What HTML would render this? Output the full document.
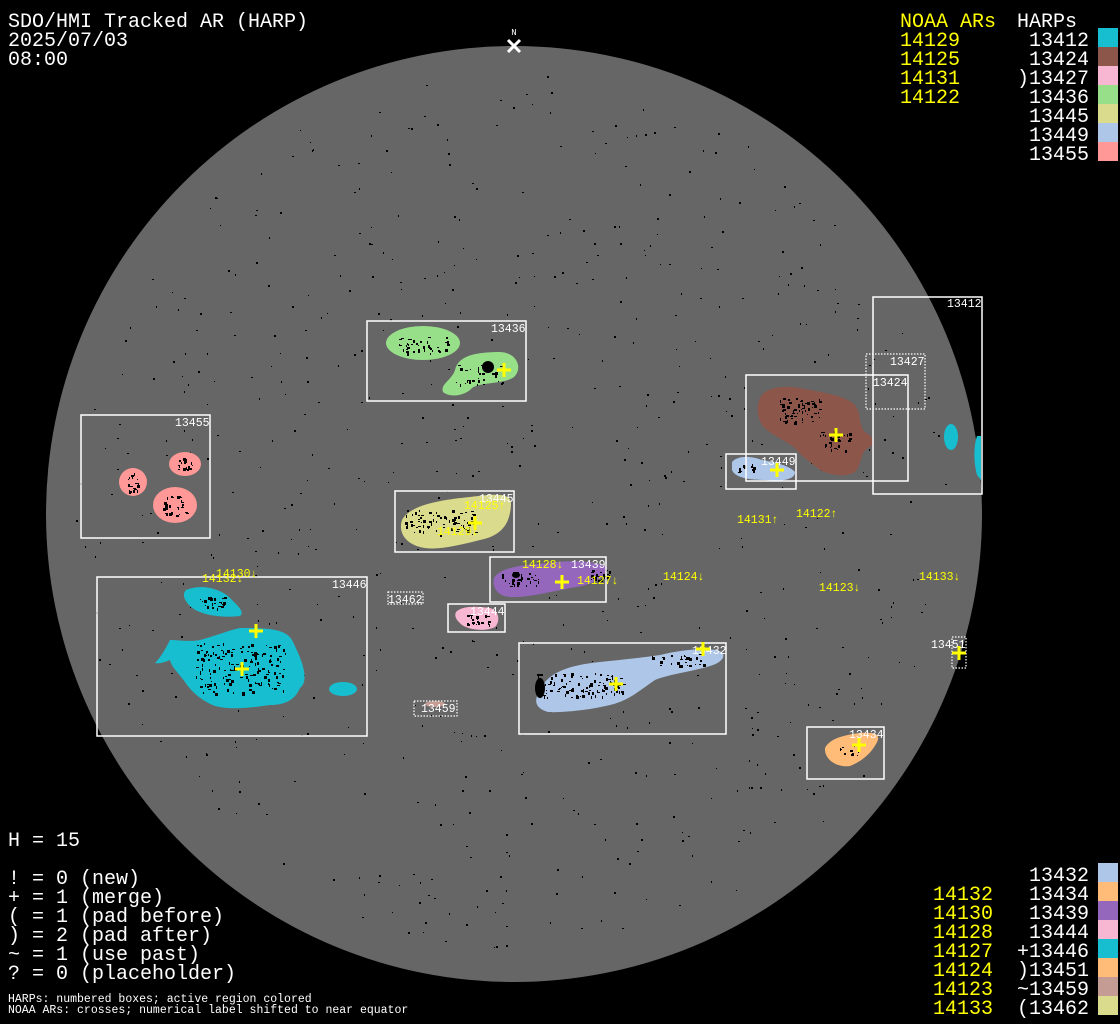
<!DOCTYPE html>
<html><head><meta charset="utf-8"><style>
html,body{margin:0;padding:0;background:#000;width:1120px;height:1024px;overflow:hidden}
svg{display:block}
.t{font-family:"Liberation Mono",monospace;font-size:20px;fill:#fff}
.y{fill:#ffff00}
.s{font-family:"Liberation Mono",monospace;font-size:11.5px;fill:#fff}
.sy{font-family:"Liberation Mono",monospace;font-size:11.5px;fill:#ffff00}
.b{fill:none;stroke:#fff;stroke-width:1.5}
.d{fill:none;stroke:#fff;stroke-width:1.2;stroke-dasharray:1.5 1.5}
.x{stroke:#ffff00;stroke-width:3;fill:none}
</style></head><body>
<svg width="1120" height="1024" viewBox="0 0 1120 1024" xmlns="http://www.w3.org/2000/svg">
<circle cx="514" cy="514" r="468" fill="#666666"/>
<g id="dots"></g>
<!-- regions -->
<ellipse cx="423" cy="343" rx="37" ry="17" fill="#98df8a"/>
<path d="M455,370 C458,356 475,352 500,352 C518,353 522,368 515,376 C508,384 480,382 472,388 C465,396 450,398 443,392 C440,384 452,380 455,370Z" fill="#98df8a"/>
<circle cx="488" cy="367" r="6" fill="#000"/>
<ellipse cx="133" cy="482" rx="14" ry="14" fill="#ff9896"/>
<ellipse cx="185" cy="464" rx="16" ry="12" fill="#ff9896"/>
<ellipse cx="175" cy="505" rx="22" ry="18" fill="#ff9896"/>
<path d="M186,590 C200,584 220,588 230,598 C238,606 245,612 240,616 C225,618 200,616 190,606 C184,600 182,594 186,590Z" fill="#17becf"/>
<path d="M170,660 C165,662 160,664 155,663 C160,658 165,650 170,640 C178,640 190,642 200,640 C215,636 230,630 240,628 C265,628 285,628 292,640 C302,660 310,680 300,688 C295,700 285,705 270,705 C250,708 230,710 215,706 C200,700 190,690 185,682 C178,672 172,668 170,660Z" fill="#17becf"/>
<ellipse cx="343" cy="689" rx="14" ry="7" fill="#17becf"/>
<ellipse cx="951" cy="437" rx="7" ry="13" fill="#17becf"/>
<path d="M977,436 L981,436 L981,480 L977,475 C973,460 974,445 977,436Z" fill="#17becf"/>
<path d="M402,520 C410,505 440,500 470,497 C495,494 512,492 511,505 C510,520 505,535 480,540 C460,545 440,550 425,548 C405,545 398,532 402,520Z" fill="#dbdb8d"/>
<path d="M494,578 C500,568 520,565 540,564 C565,560 590,560 605,566 C610,575 595,585 570,588 C550,592 525,598 510,597 C498,596 492,588 494,578Z" fill="#9467bd"/>
<path d="M456,612 C462,606 475,606 490,608 C500,611 500,622 495,627 C485,632 470,630 462,625 C456,620 454,616 456,612Z" fill="#f7b6d2"/>
<ellipse cx="435" cy="704" rx="10" ry="3" fill="#c49c94"/>
<path d="M540,690 C548,672 570,665 600,662 C620,660 640,658 660,655 C680,650 700,648 716,650 C728,652 725,662 710,666 C690,672 670,674 655,680 C640,690 630,700 610,705 C590,710 560,713 548,712 C534,708 534,700 540,690Z" fill="#aec7e8"/>
<path d="M825,748 C830,738 845,735 860,733 C875,732 882,734 876,744 C870,755 860,762 850,766 C838,768 824,760 825,748Z" fill="#ffbb78"/>
<path d="M760,398 C765,388 780,385 800,388 C820,392 845,395 855,405 C862,415 858,425 865,432 C875,438 876,444 868,448 C860,452 862,465 855,472 C845,478 830,475 820,470 C810,462 800,455 795,448 C785,440 770,435 762,425 C756,415 757,405 760,398Z" fill="#8c564b"/>
<path d="M732,462 C738,455 752,456 762,460 C775,462 790,466 795,472 C795,480 780,482 765,480 C750,480 735,478 732,470Z" fill="#aec7e8"/>
<g id="spots"></g>
<!-- boxes -->
<rect class="b" x="367" y="321" width="159" height="80"/>
<rect class="b" x="81" y="415" width="129" height="123"/>
<rect class="b" x="97" y="577" width="270" height="159"/>
<rect class="b" x="395" y="491" width="119" height="61"/>
<rect class="b" x="490" y="557" width="116" height="45"/>
<rect class="b" x="448" y="604" width="57" height="28"/>
<rect class="d" x="388" y="592" width="35" height="12"/>
<rect class="d" x="414" y="701" width="43" height="15"/>
<rect class="b" x="519" y="643" width="207" height="91"/>
<rect class="b" x="807" y="727" width="77" height="52"/>
<rect class="b" x="746" y="375" width="162" height="106"/>
<rect class="d" x="866" y="354" width="59" height="55"/>
<rect class="b" x="873" y="297" width="109" height="197"/>
<rect class="b" x="726" y="454" width="70" height="35"/>
<rect class="d" x="952" y="637" width="14" height="31"/>
<!-- box labels -->
<text class="s" x="491" y="332">13436</text>
<text class="s" x="175" y="426">13455</text>
<text class="s" x="332" y="588">13446</text>
<text class="s" x="479" y="502">13445</text>
<text class="s" x="571" y="568">13439</text>
<text class="s" x="470" y="615">13444</text>
<text class="s" x="388" y="603">13462</text>
<text class="s" x="421" y="712">13459</text>
<text class="s" x="692" y="654">13432</text>
<text class="s" x="849" y="738">13434</text>
<text class="s" x="873" y="386">13424</text>
<text class="s" x="890" y="365">13427</text>
<text class="s" x="947" y="307">13412</text>
<text class="s" x="761" y="465">13449</text>
<text class="s" x="931" y="648">13451</text>
<!-- yellow labels -->
<text class="sy" x="464" y="509">14125↑</text>
<text class="sy" x="437" y="535">14129↓</text>
<text class="sy" x="522" y="568">14128↓</text>
<text class="sy" x="577" y="584">14127↓</text>
<text class="sy" x="663" y="580">14124↓</text>
<text class="sy" x="819" y="591">14123↓</text>
<text class="sy" x="919" y="580">14133↓</text>
<text class="sy" x="737" y="523">14131↑</text>
<text class="sy" x="796" y="517">14122↑</text>
<text class="sy" x="216" y="577">14130↓</text>
<text class="sy" x="202" y="582">14132↓</text>
<!-- crosses -->
<g class="x">
<path d="M497,370h14M504,363v14"/>
<path d="M829,435h14M836,428v14"/>
<path d="M770,470h14M777,463v14"/>
<path d="M468,523h14M475,516v14"/>
<path d="M555,582h14M562,575v14"/>
<path d="M249,631h14M256,624v14"/>
<path d="M235,669h14M242,662v14"/>
<path d="M696,649h14M703,642v14"/>
<path d="M609,684h14M616,677v14"/>
<path d="M852,745h14M859,738v14"/>
<path d="M952,653h14M959,646v14"/>
</g>
<!-- N marker -->
<text x="514" y="35" font-family="Liberation Mono,monospace" font-size="9" fill="#fff" text-anchor="middle">N</text>
<path d="M508,40L520,52M520,40L508,52" stroke="#fff" stroke-width="3"/>
<!-- top-left -->
<text class="t" x="8" y="27">SDO/HMI Tracked AR (HARP)</text>
<text class="t" x="8" y="46">2025/07/03</text>
<text class="t" x="8" y="65">08:00</text>
<!-- top-right legend -->
<text class="t y" x="900" y="27">NOAA ARs</text>
<text class="t" x="1017" y="27">HARPs</text>
<g class="t y"><text x="900" y="46">14129</text><text x="900" y="65">14125</text><text x="900" y="84">14131</text><text x="900" y="103">14122</text></g>
<g class="t" text-anchor="end"><text x="1089" y="46">13412</text><text x="1089" y="65">13424</text><text x="1089" y="84">)13427</text><text x="1089" y="103">13436</text><text x="1089" y="122">13445</text><text x="1089" y="141">13449</text><text x="1089" y="160">13455</text></g>
<rect x="1098" y="28" width="20" height="19" fill="#17becf"/>
<rect x="1098" y="47" width="20" height="19" fill="#8c564b"/>
<rect x="1098" y="66" width="20" height="19" fill="#f7b6d2"/>
<rect x="1098" y="85" width="20" height="19" fill="#98df8a"/>
<rect x="1098" y="104" width="20" height="19" fill="#dbdb8d"/>
<rect x="1098" y="123" width="20" height="19" fill="#aec7e8"/>
<rect x="1098" y="142" width="20" height="19" fill="#ff9896"/>
<!-- bottom-left -->
<text class="t" x="8" y="846">H = 15</text>
<text class="t" x="8" y="884">! = 0 (new)</text>
<text class="t" x="8" y="903">+ = 1 (merge)</text>
<text class="t" x="8" y="922">( = 1 (pad before)</text>
<text class="t" x="8" y="941">) = 2 (pad after)</text>
<text class="t" x="8" y="960">~ = 1 (use past)</text>
<text class="t" x="8" y="979">? = 0 (placeholder)</text>
<text class="s" x="8" y="1002">HARPs: numbered boxes; active region colored</text>
<text class="s" x="8" y="1013">NOAA ARs: crosses; numerical label shifted to near equator</text>
<!-- bottom-right -->
<g class="t y" text-anchor="end"><text x="993" y="900">14132</text><text x="993" y="919">14130</text><text x="993" y="938">14128</text><text x="993" y="957">14127</text><text x="993" y="976">14124</text><text x="993" y="995">14123</text><text x="993" y="1014">14133</text></g>
<g class="t" text-anchor="end"><text x="1089" y="881">13432</text><text x="1089" y="900">13434</text><text x="1089" y="919">13439</text><text x="1089" y="938">13444</text><text x="1089" y="957">+13446</text><text x="1089" y="976">)13451</text><text x="1089" y="995">~13459</text><text x="1089" y="1014">(13462</text></g>
<rect x="1098" y="863" width="20" height="19" fill="#aec7e8"/>
<rect x="1098" y="882" width="20" height="19" fill="#ffbb78"/>
<rect x="1098" y="901" width="20" height="19" fill="#9467bd"/>
<rect x="1098" y="920" width="20" height="19" fill="#f7b6d2"/>
<rect x="1098" y="939" width="20" height="19" fill="#17becf"/>
<rect x="1098" y="958" width="20" height="19" fill="#ffbb78"/>
<rect x="1098" y="977" width="20" height="19" fill="#c49c94"/>
<rect x="1098" y="996" width="20" height="19" fill="#dbdb8d"/>
</svg>
<script>
(function(){var s=12345,h='';
function r(){s=(s*1103515245+12345)%2147483648;return s/2147483648;}
for(var i=0;i<700;i++){var a=r()*6.2832,d=Math.sqrt(r())*440;var x=514+d*Math.cos(a),y=514+d*Math.sin(a);
h+='<rect x="'+x.toFixed(0)+'" y="'+y.toFixed(0)+'" width="'+(1+Math.floor(r()*2))+'" height="'+(1+Math.floor(r()*2))+'" fill="#000"/>';}
document.getElementById('dots').innerHTML=h;
var C=[[423,345,25,8,40],[480,375,25,10,30],[133,482,6,10,20],[185,464,8,6,20],[175,505,12,10,30],[212,602,12,6,25],[240,668,45,25,160],[440,522,35,12,80],[520,578,20,8,30],[600,575,10,6,25],[478,620,12,5,20],[580,685,45,12,110],[680,660,30,6,30],[800,410,20,12,60],[835,440,15,10,30],[850,750,10,6,12],[745,468,10,4,12]];
var k='';C.forEach(function(c){for(var j=0;j<c[4];j++){var x=c[0]+(r()*2-1)*c[2],y=c[1]+(r()*2-1)*c[3];k+='<rect x="'+x.toFixed(0)+'" y="'+y.toFixed(0)+'" width="'+(1+Math.floor(r()*3))+'" height="'+(1+Math.floor(r()*3))+'" fill="#000"/>';}});
k+='<ellipse cx="540" cy="688" rx="5" ry="10" fill="#000"/><ellipse cx="516" cy="575" rx="4" ry="3" fill="#000"/>';
document.getElementById('spots').innerHTML=k;})();
</script>
</body></html>
